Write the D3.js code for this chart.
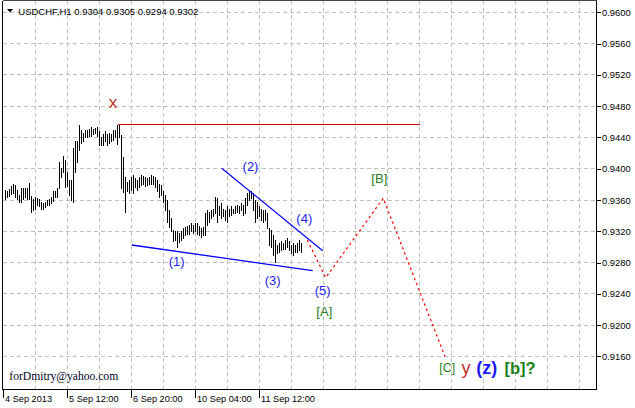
<!DOCTYPE html>
<html><head><meta charset="utf-8">
<script src="https://cdn.jsdelivr.net/npm/d3@7"></script>
<style>body{margin:0;background:#fff}svg{display:block}</style>
</head><body>
<script>
// ---- data ----
const symbolTitle = "USDCHF,H1";
const lastOHLC = ["0.9304", "0.9305", "0.9294", "0.9302"];

const highs = [
  0.9373,0.9371,0.9374,0.9378,0.9381,0.9379,0.9373,0.9367,0.9375,0.9375,
  0.9375,0.9375,0.9382,0.9365,0.9361,0.9364,0.9362,0.9361,0.9358,0.9356,
  0.9358,0.9360,0.9361,0.9364,0.9372,0.9372,0.9376,0.9409,0.9401,0.9416,
  0.9411,0.9396,0.9386,0.9386,0.9426,0.9435,0.9435,0.9456,0.9450,0.9446,
  0.9450,0.9450,0.9451,0.9454,0.9451,0.9452,0.9453,0.9448,0.9441,0.9445,
  0.9448,0.9445,0.9446,0.9445,0.9449,0.9450,0.9456,0.9456,0.9443,0.9415,
  0.9390,0.9383,0.9386,0.9390,0.9392,0.9388,0.9386,0.9390,0.9392,0.9391,
  0.9390,0.9388,0.9390,0.9392,0.9391,0.9390,0.9386,0.9381,0.9379,0.9371,
  0.9367,0.9360,0.9347,0.9337,0.9322,0.9320,0.9320,0.9318,0.9321,0.9324,
  0.9326,0.9327,0.9328,0.9330,0.9328,0.9330,0.9330,0.9327,0.9324,0.9326,
  0.9343,0.9347,0.9345,0.9347,0.9349,0.9364,0.9362,0.9352,0.9356,0.9349,
  0.9347,0.9352,0.9349,0.9352,0.9349,0.9352,0.9354,0.9352,0.9356,0.9354,
  0.9362,0.9369,0.9371,0.9371,0.9369,0.9360,0.9358,0.9352,0.9349,0.9347,
  0.9347,0.9343,0.9324,0.9322,0.9315,0.9309,0.9302,0.9305,0.9307,0.9305,
  0.9309,0.9311,0.9307,0.9302,0.9305,0.9302,0.9305,0.9309,0.9305
];
const lows = [
  0.9361,0.9364,0.9365,0.9368,0.9369,0.9364,0.9361,0.9358,0.9357,0.9361,
  0.9364,0.9361,0.9361,0.9345,0.9347,0.9349,0.9354,0.9352,0.9349,0.9349,
  0.9351,0.9354,0.9354,0.9356,0.9359,0.9364,0.9364,0.9375,0.9390,0.9396,
  0.9377,0.9378,0.9367,0.9360,0.9358,0.9396,0.9409,0.9424,0.9433,0.9436,
  0.9441,0.9440,0.9442,0.9442,0.9445,0.9446,0.9442,0.9431,0.9431,0.9431,
  0.9435,0.9431,0.9433,0.9436,0.9437,0.9441,0.9432,0.9441,0.9375,0.9370,
  0.9345,0.9371,0.9369,0.9373,0.9369,0.9377,0.9373,0.9377,0.9379,0.9380,
  0.9378,0.9379,0.9381,0.9380,0.9381,0.9377,0.9371,0.9364,0.9367,0.9358,
  0.9347,0.9332,0.9326,0.9320,0.9307,0.9309,0.9300,0.9306,0.9309,0.9312,
  0.9315,0.9317,0.9316,0.9320,0.9318,0.9320,0.9317,0.9315,0.9313,0.9315,
  0.9315,0.9328,0.9332,0.9337,0.9339,0.9343,0.9332,0.9341,0.9337,0.9339,
  0.9335,0.9332,0.9339,0.9341,0.9343,0.9343,0.9345,0.9343,0.9347,0.9341,
  0.9343,0.9354,0.9360,0.9362,0.9347,0.9332,0.9337,0.9339,0.9335,0.9332,
  0.9335,0.9324,0.9303,0.9300,0.9290,0.9281,0.9292,0.9293,0.9296,0.9297,
  0.9298,0.9300,0.9296,0.9292,0.9290,0.9293,0.9294,0.9296,0.9294
];

const priceTicks = [0.9600,0.9560,0.9520,0.9480,0.9440,0.9400,0.9360,0.9320,0.9280,0.9240,0.9200,0.9160];
const timeLabels = ["4 Sep 2013", "5 Sep 12:00", "6 Sep 20:00", "10 Sep 04:00", "11 Sep 12:00"];
const timeLabelBars = [-0.9, 31.1, 63.1, 95.1, 127.1];
const gridStepBars = 16;

const resistance = {price: 0.9456, fromBar: 56, toBar: 207.25};
const upperTrend = [[108.1, 0.94007], [158.6, 0.92952]];
const lowerTrend = [[63.1, 0.93025], [153.6, 0.92696]];
const forecast = [[150.9, 0.93089], [160.1, 0.92607], [188.9, 0.93623], [219.75, 0.91598]];

const waveLabels = [
  {text: "x",   bar: 53.75, price: 0.94843, kind: "red"},
  {text: "(2)", bar: 122.5, price: 0.94024, kind: "blue"},
  {text: "(4)", bar: 149.4, price: 0.93367, kind: "blue"},
  {text: "(1)", bar: 85.6,  price: 0.92811, kind: "blue"},
  {text: "(3)", bar: 133.6, price: 0.92568, kind: "blue"},
  {text: "(5)", bar: 158.6, price: 0.92449, kind: "blue"},
  {text: "[A]", bar: 159.4, price: 0.92171, kind: "green"},
  {text: "[B]", bar: 186.9, price: 0.93879, kind: "green"}
];
const finalLabels = [
  {text: "[C]",  bar: 220.9,  price: 0.91447, kind: "greenSmall"},
  {text: "y",    bar: 230.25, price: 0.91447, kind: "redBig"},
  {text: "(z)",  bar: 240.6,  price: 0.91447, kind: "blueBold"},
  {text: "[b]?", bar: 257.25, price: 0.91447, kind: "greenBold"}
];
const credit = "forDmitry@yahoo.com";

// ---- chart ----
const W = 635, H = 408;
const L = 2.5, R = 596.5, T = 0.5, B = 389.5;
const svg = d3.select("body").append("svg").attr("width", W).attr("height", H)
  .style("font-family", "'Liberation Sans', Arial, sans-serif");

const x = d3.scaleLinear().domain([0, 100]).range([5.5, 205.5]);
const y = d3.scaleLinear().domain([0.9160, 0.9600]).range([356.4, 12.4]);
const crisp = v => Math.round(v - 0.5) + 0.5;

const grid = svg.append("g").attr("stroke", "#c0c0c0").attr("stroke-dasharray", "4,3")
  .attr("shape-rendering", "crispEdges");
grid.selectAll("line.h").data(priceTicks).join("line").attr("class", "h")
  .attr("x1", L).attr("x2", R).attr("y1", d => crisp(y(d))).attr("y2", d => crisp(y(d)));
const vBars = d3.range(1, 40).map(k => k * gridStepBars - 0.9).filter(b => x(b) < R - 2);
grid.selectAll("line.v").data(vBars).join("line").attr("class", "v")
  .attr("y1", T).attr("y2", B).attr("x1", d => crisp(x(d))).attr("x2", d => crisp(x(d)));

// resistance line
svg.append("line").attr("x1", x(resistance.fromBar)).attr("x2", x(resistance.toBar))
  .attr("y1", crisp(y(resistance.price))).attr("y2", crisp(y(resistance.price)))
  .attr("stroke", "#cc0000").attr("stroke-width", 1).attr("shape-rendering", "crispEdges");

// bars
svg.append("g").attr("stroke", "#000").attr("stroke-width", 1).attr("shape-rendering", "crispEdges")
  .selectAll("line").data(highs).join("line")
  .attr("x1", (d, i) => x(i)).attr("x2", (d, i) => x(i))
  .attr("y1", d => y(d)).attr("y2", (d, i) => y(lows[i]) + 1);

const lineGen = d3.line().x(d => x(d[0])).y(d => y(d[1]));
svg.append("path").attr("d", lineGen(upperTrend)).attr("stroke", "#0000ff").attr("stroke-width", 1.2).attr("fill", "none");
svg.append("path").attr("d", lineGen(lowerTrend)).attr("stroke", "#0000ff").attr("stroke-width", 1.3).attr("fill", "none");
svg.append("path").attr("d", lineGen(forecast)).attr("stroke", "#ff0000").attr("stroke-width", 1.2)
  .attr("stroke-dasharray", "2.5,3").attr("fill", "none");

const styles = {
  red:        {fill: "#c0302a", size: 17, weight: "normal"},
  blue:       {fill: "#2323f0", size: 13, weight: "normal"},
  green:      {fill: "#1f801f", size: 13, weight: "normal"},
  greenSmall: {fill: "#1f801f", size: 12.5, weight: "normal"},
  redBig:     {fill: "#c0302a", size: 18, weight: "normal"},
  blueBold:   {fill: "#1a1aff", size: 18, weight: "bold"},
  greenBold:  {fill: "#1a7f1a", size: 16.5, weight: "bold"}
};
svg.append("g").selectAll("text").data(waveLabels.concat(finalLabels)).join("text")
  .attr("x", d => x(d.bar)).attr("y", d => y(d.price))
  .attr("text-anchor", "middle").attr("dominant-baseline", "central")
  .attr("fill", d => styles[d.kind].fill)
  .attr("font-size", d => styles[d.kind].size)
  .attr("font-weight", d => styles[d.kind].weight)
  .text(d => d.text);

// frame
svg.append("g").attr("stroke", "#000").attr("shape-rendering", "crispEdges").call(g => {
  g.append("line").attr("x1", L).attr("x2", L).attr("y1", T).attr("y2", B);
  g.append("line").attr("x1", L).attr("x2", R).attr("y1", T).attr("y2", T).attr("stroke", "#444");
  g.append("line").attr("x1", L).attr("x2", R).attr("y1", B).attr("y2", B);
  g.append("line").attr("x1", R).attr("x2", R).attr("y1", T).attr("y2", B);
});

// right axis
const yAxis = d3.axisRight(y).tickValues(priceTicks).tickFormat(d3.format(".4f")).tickSize(4).tickPadding(1.5);
svg.append("g").attr("transform", `translate(${R},0)`).call(yAxis)
  .call(g => g.select(".domain").remove())
  .call(g => g.selectAll("line").attr("shape-rendering", "crispEdges"))
  .call(g => g.selectAll("text").attr("font-size", 9.4).attr("font-family", "'Liberation Sans', Arial, sans-serif").attr("fill", "#000"));

// bottom labels
const tg = svg.append("g");
timeLabelBars.forEach((b, i) => {
  const xx = Math.max(L, crisp(x(b)));
  tg.append("line").attr("x1", xx).attr("x2", xx).attr("y1", B).attr("y2", B + 8)
    .attr("stroke", "#000").attr("shape-rendering", "crispEdges");
  tg.append("text").attr("x", xx + 1.5).attr("y", 401.5).attr("font-size", 9.2).attr("fill", "#000").text(timeLabels[i]);
});

// title
svg.append("path").attr("d", "M7,9 L13,9 L10,12.5 Z").attr("fill", "#000");
svg.append("text").attr("x", 18.3).attr("y", 15).attr("font-size", 9.5).attr("fill", "#000")
  .text(symbolTitle + " " + lastOHLC.join(" "));

// credit
svg.append("text").attr("x", 9.3).attr("y", 379.5).attr("font-size", 11.6)
  .attr("font-family", "'Liberation Serif', 'Times New Roman', serif").attr("fill", "#000022").text(credit);
</script>
</body></html>
